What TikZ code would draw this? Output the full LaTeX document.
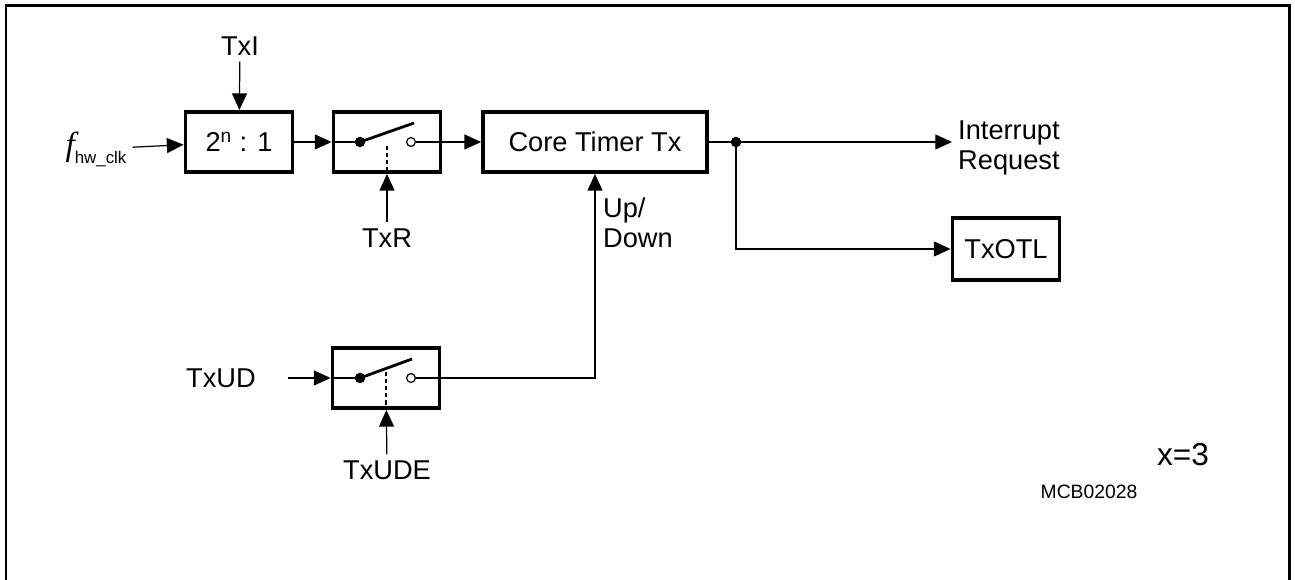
\documentclass[tikz,border=0pt]{standalone}
\usepackage{fontspec}
\setmainfont{Liberation Sans}
\newfontfamily\serifit{Liberation Serif}
\usetikzlibrary{arrows.meta}

\begin{document}
\begin{tikzpicture}[x=0.02cm, y=-0.02cm, >={Triangle[length=9.5pt,width=8.5pt]},
    every node/.style={font=\fontsize{15.5}{17}\selectfont},
    block/.style={draw, line width=2.2pt, inner sep=0pt, minimum width=2.14cm, minimum height=1.2cm},
    sig/.style={line width=0.7pt},
    blade/.style={line width=1.6pt}]
    \useasboundingbox (0,0) rectangle (1295,580);
    \draw[line width=1.7pt] (6,580) -- (6,6) -- (1289,6) -- (1289,580);

    % blocks
    \node[block] (div) at (239,142) {2\textsuperscript{n} : 1};
    \node[block] (swA) at (387,142) {};
    \node[block, minimum width=4.48cm] (core) at (595,142) {Core Timer Tx};
    \node[block, minimum height=1.24cm] (otl) at (1006,249) {TxOTL};
    \node[block] (swB) at (386,378) {};

    % labels
    \node (fclk) at (96,149) {{\serifit\itshape\fontsize{19}{20}\selectfont f}\raisebox{-0.55ex}{\fontsize{9.6}{11}\selectfont hw\_clk}};
    \node (txi) at (240,46) {TxI};
    \node (txr) at (387,238) {TxR};
    \node (txud) at (221,378) {TxUD};
    \node (txude) at (387,470) {TxUDE};
    \node[align=left, anchor=west] (irq) at (952,148) {Interrupt\\Request};
    \node[align=left, anchor=west, inner sep=1pt] (updn) at (601,223) {Up/\\Down};
    \node[font=\fontsize{18}{20}\selectfont] (xval) at (1183,455) {x=3};
    \node[font=\fontsize{11}{13}\selectfont] (figid) at (1089,492) {MCB02028};

    % switch contents
    \draw[sig] (swA.west) -- (360,142);
    \fill (360,142) circle (3pt);
    \draw[blade] (360,142) -- (414,123);
    \draw[sig, dash pattern=on 2.5pt off 1.5pt] (387,146) -- (swA.south);
    \draw[sig] (411,142) circle (2.5pt);
    \draw[sig] (415.5,142) -- (swA.east);

    \draw[sig] (swB.west) -- (360,378);
    \fill (360,378) circle (3pt);
    \draw[blade] (360,378) -- (412,359);
    \draw[sig, dash pattern=on 2.5pt off 1.5pt] (386,372) -- (swB.south);
    \draw[sig] (411,378) circle (2.5pt);
    \coordinate (swBo) at (415.5,378);

    % signals
    \draw[sig,->] (fclk) -- (div);
    \draw[sig,->] (txi) -- (div);
    \draw[sig,->] (div) -- (swA);
    \draw[sig,->] (txr) -- (swA);
    \draw[sig,->] (swA) -- (core);
    \coordinate (split) at (736,142);
    \draw[sig] (core) -- (split);
    \fill (split) circle (3pt);
    \draw[sig,->] (split) -- (irq.west |- split);
    \draw[sig,->] (split) |- (otl);
    \draw[sig,->] ([xshift=15pt]txud.east) -- (swB);
    \draw[sig,->] (txude) -- (swB);
    \draw[sig,->] (swBo) -| (core);
\end{tikzpicture}
\end{document}
